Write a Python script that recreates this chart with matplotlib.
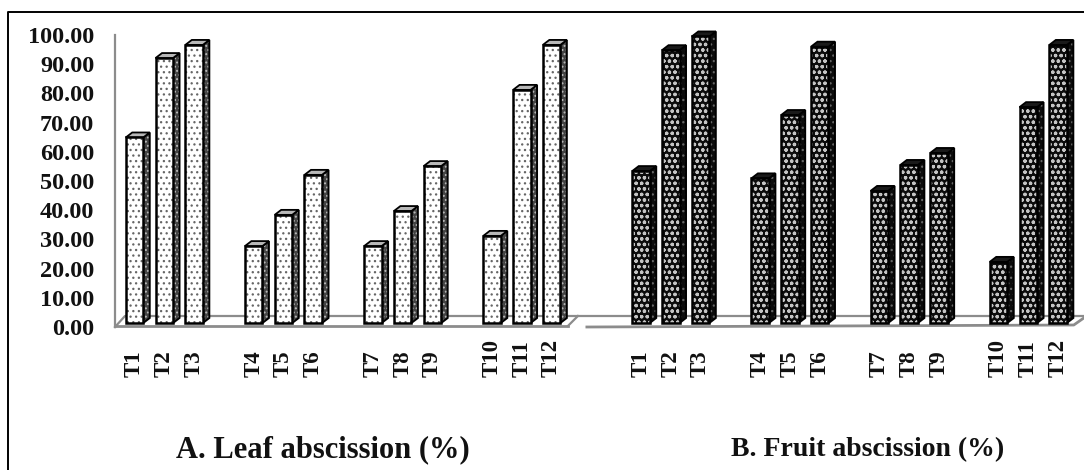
import matplotlib
matplotlib.use("Agg")
import matplotlib.pyplot as plt
from matplotlib.lines import Line2D
from matplotlib.patches import Polygon

plt.rcParams['font.family'] = ['Liberation Serif', 'DejaVu Serif']
plt.rcParams['hatch.linewidth'] = 0.9

treatments = ['T1', 'T2', 'T3', 'T4', 'T5', 'T6', 'T7', 'T8', 'T9', 'T10', 'T11', 'T12']
positions_a = [0, 1, 2, 4, 5, 6, 8, 9, 10, 12, 13, 14]
positions_b = [17, 18, 19, 21, 22, 23, 25, 26, 27, 29, 30, 31]
leaf_abscission = [64.9, 92.1, 96.6, 27.7, 38.4, 52.1, 27.7, 39.7, 55.1, 31.2, 81.2, 96.6]
fruit_abscission = [53.4, 94.8, 99.5, 50.9, 72.6, 96.0, 46.6, 55.5, 59.6, 22.3, 75.3, 96.6]
y_ticks = [0, 10, 20, 30, 40, 50, 60, 70, 80, 90, 100]

W, H = 1084, 470
fig = plt.figure(figsize=(W / 100, H / 100), dpi=100, facecolor='white')
ax = fig.add_axes([115 / W, 1 - 327 / H, (W - 115) / W, 292 / H])
ax.set_xlim(-0.654, 31.87)
ax.set_ylim(0, 100)
ax.patch.set_alpha(0)

PX = 1 / 29.8      # x units per pixel
PY = 100 / 292     # y units per pixel
BAR = 17.5 * PX
DX, DY = 6.5 * PX, 5 * PY
BASE = 4 * PY

def bars(xs, vals, face, hatch_col, hatch, side_face, side_hatch_col, side_hatch, top_face, z=3):
    for x, v in zip(xs, vals):
        l, r = x - BAR / 2, x + BAR / 2
        corners = [(r, BASE), (r + DX, BASE + DY), (r + DX, v + DY), (r, v)]
        side = Polygon(corners, closed=True, facecolor=side_face, edgecolor=side_hatch_col,
                       hatch=side_hatch, lw=0, clip_on=False, zorder=z)
        side_edge = Polygon(corners, closed=True, facecolor='none', edgecolor='black', lw=1.4,
                            clip_on=False, zorder=z)
        top = Polygon([(l, v), (l + DX, v + DY), (r + DX, v + DY), (r, v)], closed=True,
                      facecolor=top_face, edgecolor='black', lw=1.3, clip_on=False, zorder=z)
        ax.add_patch(side)
        ax.add_patch(side_edge)
        ax.add_patch(top)
    ax.bar(xs, [v - BASE for v in vals], BAR, bottom=BASE, facecolor=face, edgecolor=hatch_col,
           hatch=hatch, lw=0, clip_on=False, zorder=z + 0.1)
    ax.bar(xs, [v - BASE for v in vals], BAR, bottom=BASE, facecolor='none', edgecolor='black',
           lw=1.8, clip_on=False, zorder=z + 0.2)

bars(positions_a, leaf_abscission, 'white', '#666666', '...', '#444444', '#bbbbbb', '....', '#b8b8b8')
bars(positions_b, fruit_abscission, '#0c0c0c', '#c4c4c4', 'ooo', '#0c0c0c', '#666666', '...', '#1a1a1a')

# floor of the 3-D chart
grey = '#8c8c8c'
p2x = lambda px: (px - 134.5) * PX
p2y = lambda py: (327 - py) * PY
ax.plot([p2x(115), p2x(125), p2x(1084)], [p2y(327), p2y(316), p2y(316)], color=grey, lw=1.6,
        clip_on=False, zorder=1)
ax.plot([p2x(115), p2x(568)], [p2y(326), p2y(326)], color=grey, lw=2, clip_on=False, zorder=1)
ax.plot([p2x(587), p2x(1074), p2x(1084)], [p2y(327), p2y(325), p2y(318)], color=grey, lw=2,
        clip_on=False, zorder=1)
ax.plot([p2x(568), p2x(578)], [p2y(326), p2y(316)], color=grey, lw=1.6, clip_on=False, zorder=1)

for s in ['top', 'right', 'bottom']:
    ax.spines[s].set_visible(False)
ax.spines['left'].set_color(grey)
ax.spines['left'].set_linewidth(1.6)

ax.set_yticks(y_ticks)
ax.set_yticklabels([f'{t:.2f}' for t in y_ticks], fontsize=17.5, fontweight='bold', color='#111111')
ax.tick_params(axis='y', length=0, pad=15)

ax.set_xticks(positions_a + positions_b)
ax.set_xticklabels(treatments + treatments, rotation=90, fontsize=16.5, fontweight='bold',
                   va='bottom', ha='center', color='#111111')
ax.tick_params(axis='x', length=0, pad=36)

fig.text(323 / W, 1 - 450 / H, 'A. Leaf abscission (%)', ha='center', va='center',
         fontsize=22, fontweight='bold', color='#111111')
fig.text(868 / W, 1 - 450 / H, 'B. Fruit abscission (%)', ha='center', va='center',
         fontsize=20, fontweight='bold', color='#111111')

# outer frame
fig.add_artist(Line2D([8 / W, 8 / W, 1], [0, 1 - 12 / H, 1 - 12 / H], color='black', lw=1.4,
                      transform=fig.transFigure))

fig.savefig('out.png', dpi=100)
